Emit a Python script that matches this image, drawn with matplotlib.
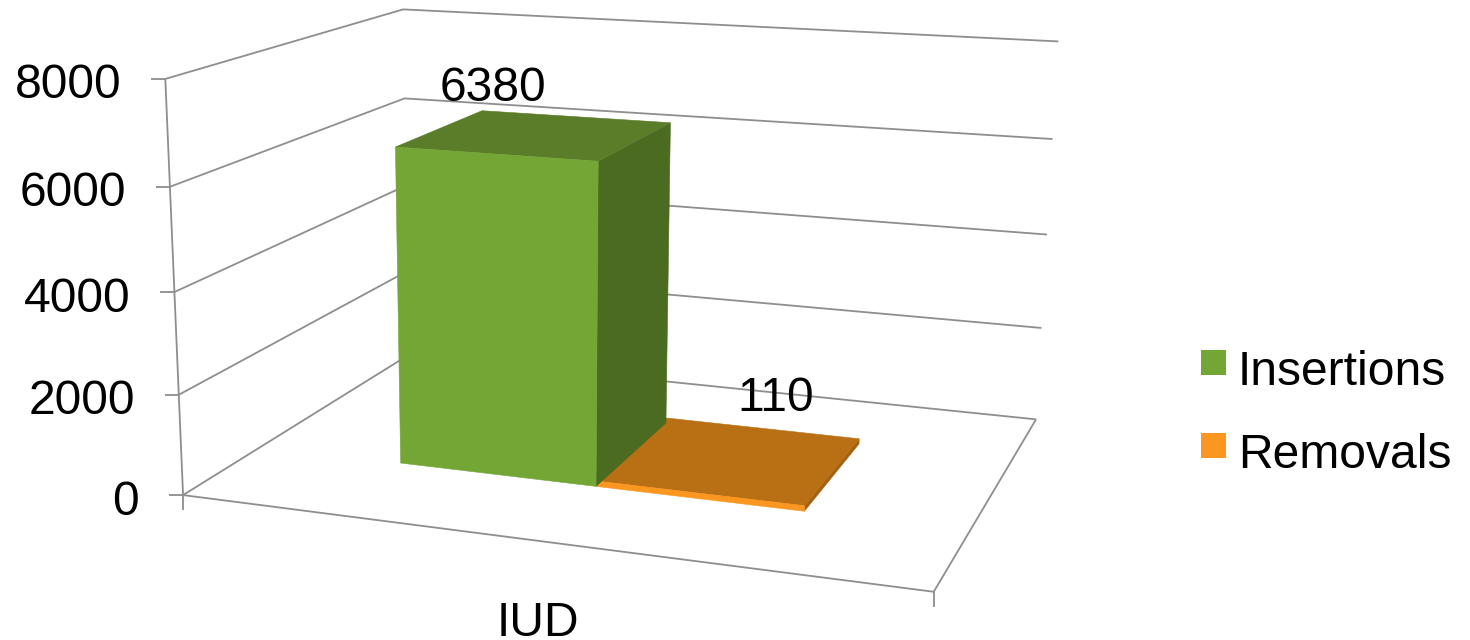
import numpy as np
import matplotlib
matplotlib.use("Agg")
from matplotlib import pyplot as plt
from matplotlib.patches import Polygon, Rectangle

plt.rcParams['font.family'] = ['Liberation Sans', 'DejaVu Sans']

# data
categories = ['IUD']
series_names = ['Insertions', 'Removals']
series_values = [6380, 110]
y_ticks = [0, 2000, 4000, 6000, 8000]
y_max = 8000

# look of the marks
front_colors = ['#74A636', '#FB9620']
top_colors = ['#5B7C28', '#B96F14']
side_colors = ['#4A6B20', '#A46110']
bar_edges = [0.214, 0.499, 0.785]   # along the category axis, 0..1
bar_depth = (0.305, 0.720)          # along the depth axis, 0..1
label_offsets = [(-2, -66), (77, -95)]
grid_color = '#8E8E8E'
font_px = 48
dpi = 100

# axis box corners: (x, depth, height) -> pixel, used to fit the camera
box_corners = [((0, 0, 0), (186, 492)), ((1, 0, 0), (934, 594)),
               ((1, 1, 0), (1037, 417)), ((0, 1, 0), (405, 358)),
               ((0, 0, 1), (162, 80)), ((0, 1, 1), (407, 8)),
               ((1, 1, 1), (1057, 42))]


def fit_camera(corners):
    rows = []
    for (x, d, z), (px, py) in corners:
        rows.append([x, d, z, 1, 0, 0, 0, 0, -px*x, -px*d, -px*z, -px])
        rows.append([0, 0, 0, 0, x, d, z, 1, -py*x, -py*d, -py*z, -py])
    vh = np.linalg.svd(np.array(rows, dtype=float))[2]
    return vh[-1].reshape(3, 4)


camera = fit_camera(box_corners)


def project(x, d, value):
    p = camera @ np.array([x, d, value / y_max, 1.0])
    return p[0] / p[2], p[1] / p[2]


fig = plt.figure(figsize=(14.7, 6.4), dpi=dpi)
ax = fig.add_axes([0, 0, 1, 1])
ax.set_xlim(0, 1470)
ax.set_ylim(640, 0)
ax.axis('off')
fs = font_px * 72 / dpi


def line(points, lw=1.3):
    xs, ys = zip(*points)
    ax.plot(xs, ys, color=grid_color, lw=lw, solid_capstyle='butt', zorder=1)


# walls and floor
for v in y_ticks:
    fl = project(0, 0, v)
    line([project(1, 1, v), project(0, 1, v), fl])
    line([(fl[0] - 14, fl[1]), fl])
    ax.text(fl[0] - 44, fl[1] + 7, str(v), fontsize=fs, ha='right', va='center', color='black', zorder=5)
line([project(0, 0, 0), project(0, 0, y_max)])
line([project(0, 0, 0), project(1, 0, 0), project(1, 1, 0)])
for x in [0, 1]:
    px, py = project(x, 0, 0)
    line([(px, py), (px, py + 15)])


def face(points, color, z):
    ax.add_patch(Polygon(points, closed=True, facecolor=color, edgecolor=color, lw=0.4, zorder=z))


# bars
d0, d1 = bar_depth
for i, val in enumerate(series_values):
    x0, x1 = bar_edges[i], bar_edges[i + 1]
    z = 3 if i == 0 else 2
    face([project(x1, d0, 0), project(x1, d1, 0), project(x1, d1, val), project(x1, d0, val)], side_colors[i], z)
    face([project(x0, d0, val), project(x1, d0, val), project(x1, d1, val), project(x0, d1, val)], top_colors[i], z)
    face([project(x0, d0, 0), project(x1, d0, 0), project(x1, d0, val), project(x0, d0, val)], front_colors[i], z)
    px, py = project((x0 + x1) / 2, d0, val)
    ax.text(px + label_offsets[i][0], py + label_offsets[i][1], str(val), fontsize=fs,
            ha='center', va='center', color='black', zorder=5)

# category label
px, py = project(0.5, 0, 0)
ax.text(px + 1, 636, categories[0], fontsize=fs, ha='center', va='baseline', color='black', zorder=5)

# legend
legend_y = [350, 433]
for name, color, y in zip(series_names, front_colors, legend_y):
    ax.add_patch(Rectangle((1201, y), 25, 25, facecolor=color, edgecolor='none'))
    ax.text(1238, y + 35, name, fontsize=fs, ha='left', va='baseline', color='black')

fig.savefig('out.png', dpi=dpi, facecolor='white')
